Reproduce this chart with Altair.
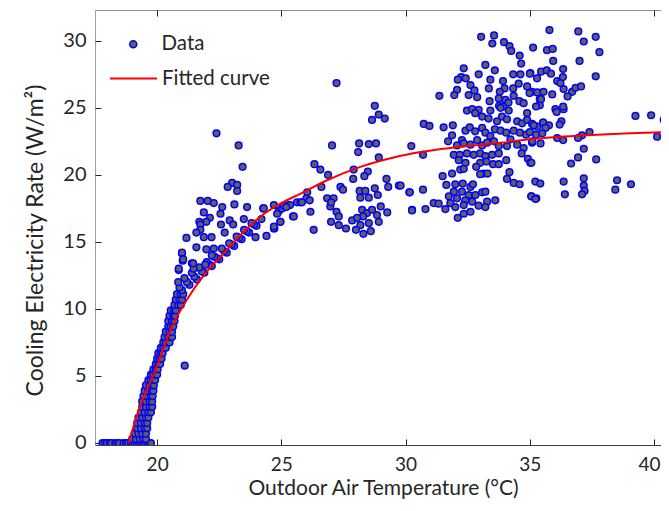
import altair as alt
import pandas as pd

# ---------------- data ----------------
zero_x = [17.8, 17.9, 17.98, 18.1, 18.16, 18.32, 18.4, 18.48, 18.65, 18.75, 18.83,
          18.95, 19.01, 19.1, 19.19, 19.28, 19.37, 19.45, 19.53, 19.62, 19.69, 19.75]
zero_y = [0, 0, 0, 0, 0, 0, 0, 0, 0, 0, 0, 0, 0, 0, 0, 0, 0, 0, 0, 0, 0, 0]

# steep rising band (x, y)
steep = [
    (19.0, 0.3), (19.15, 0.3), (19.3, 0.3), (19.45, 0.3), (19.55, 0.3),
    (19.1, 0.7), (19.25, 0.7), (19.4, 0.7), (19.55, 0.7),
    (19.2, 1.1), (19.35, 1.1), (19.5, 1.1), (19.6, 1.1),
    (19.2, 1.5), (19.35, 1.5), (19.5, 1.5), (19.6, 1.5),
    (19.25, 1.9), (19.4, 1.9), (19.55, 1.9), (19.65, 1.9),
    (19.35, 2.3), (19.5, 2.3), (19.65, 2.3), (19.75, 2.3),
    (19.4, 2.7), (19.55, 2.7), (19.7, 2.7), (19.8, 2.7),
    (19.4, 3.1), (19.55, 3.1), (19.7, 3.1), (19.8, 3.1),
    (19.45, 3.5), (19.6, 3.5), (19.75, 3.5), (19.82, 3.5),
    (19.5, 3.9), (19.65, 3.9), (19.78, 3.9), (19.85, 3.9),
    (19.55, 4.3), (19.7, 4.3), (19.8, 4.3), (19.87, 4.3),
    (19.65, 4.7), (19.75, 4.7), (19.85, 4.7), (19.92, 4.7),
    (19.75, 5.1), (19.85, 5.1), (19.95, 5.1), (20.0, 5.1),
    (19.85, 5.5), (19.95, 5.5), (20.02, 5.5),
    (19.95, 5.9), (20.05, 5.9), (20.12, 5.9),
    (20.0, 6.3), (20.1, 6.3), (20.18, 6.3),
    (20.05, 6.7), (20.15, 6.7), (20.22, 6.7),
    (20.15, 7.1), (20.25, 7.1), (20.35, 7.1),
    (20.25, 7.5), (20.35, 7.5), (20.5, 7.5),
    (20.3, 7.9), (20.45, 7.9), (20.6, 7.9),
    (20.35, 8.3), (20.5, 8.3), (20.6, 8.3),
    (20.45, 8.7), (20.55, 8.7), (20.65, 8.7),
    (20.45, 9.1), (20.6, 9.1), (20.7, 9.1),
    (20.5, 9.5), (20.65, 9.5), (20.72, 9.5),
    (20.55, 9.9), (20.68, 9.9), (20.75, 9.9),
    (20.7, 10.3), (20.85, 10.3), (20.95, 10.3),
    (20.75, 10.7), (20.9, 10.7), (21.0, 10.7),
    (20.8, 11.1), (20.95, 11.1), (21.05, 11.1),
    (21.11, 5.77),
]

# knee band (x, y)
knee = [
    (21.0, 11.4), (21.3, 11.8), (21.6, 12.2), (21.9, 12.7), (22.2, 13.2), (22.5, 13.7),
    (22.8, 14.2), (23.1, 14.7), (23.4, 15.2), (23.7, 15.7), (24.0, 16.2),
    (20.9, 11.6), (21.2, 12.0), (21.5, 12.4), (21.8, 12.8), (22.1, 13.3), (22.4, 13.8),
    (22.7, 14.3), (23.0, 14.8), (23.3, 15.3), (23.6, 15.8), (23.9, 16.3), (24.2, 16.7),
    (20.85, 12.0), (21.1, 12.3), (21.4, 12.7), (21.7, 13.1), (22.0, 13.5), (22.3, 13.9),
    (22.6, 14.5), (22.9, 14.9), (23.2, 15.4), (23.5, 15.9), (23.8, 16.4),
    (20.87, 12.9), (21.0, 14.15), (21.03, 13.6), (21.4, 13.4), (21.47, 13.0), (21.94, 13.3),
]

# scatter above the knee, 20.8 - 25 degC (x, y)
warm = [
    (22.39, 23.1), (23.28, 22.2), (23.44, 20.6), (23.02, 19.4), (22.84, 19.1), (23.22, 19.25),
    (23.22, 18.8), (21.74, 18.06), (22.04, 18.06), (22.28, 17.9), (23.11, 17.8), (22.62, 17.6),
    (23.62, 17.6), (21.88, 17.2), (22.55, 17.1), (22.12, 16.8), (23.49, 16.7), (21.7, 16.5),
    (21.98, 16.5), (22.92, 16.6), (21.74, 16.3), (22.57, 16.3), (23.06, 16.3), (21.74, 15.9),
    (21.58, 15.7), (22.72, 15.7), (21.18, 15.3), (21.88, 15.35), (22.19, 15.35), (23.96, 15.35),
    (24.4, 15.45), (24.72, 16.0), (21.58, 14.6), (21.98, 14.45), (22.28, 14.5), (21.0, 14.2),
    (21.05, 13.7), (22.2, 14.0), (21.45, 13.4), (20.87, 13.0), (24.27, 17.5), (24.7, 17.75),
    (24.9, 17.3),
]

# 24 - 30.5 degC (x, y)
mild = [
    (25.03, 17.5), (25.3, 17.75), (25.63, 17.95), (25.77, 17.95), (24.83, 17.1), (25.47, 16.9),
    (24.96, 16.5), (24.7, 16.0), (27.22, 26.85), (28.76, 25.15), (28.92, 24.5), (28.65, 24.1),
    (29.16, 24.2), (27.04, 22.2), (28.13, 22.35), (28.52, 22.3), (28.81, 22.35), (28.09, 21.7),
    (30.23, 22.15), (28.92, 21.3), (26.33, 20.8), (26.57, 20.4), (27.91, 20.4), (28.48, 20.25),
    (26.88, 20.0), (28.34, 19.9), (27.89, 19.7), (29.23, 19.7), (26.61, 19.1), (27.38, 19.1),
    (27.48, 18.9), (28.76, 19.0), (29.3, 19.1), (29.73, 19.2), (26.04, 18.7), (28.15, 18.8),
    (28.38, 18.8), (28.88, 18.5), (30.15, 18.7), (26.01, 18.25), (26.84, 18.25), (27.1, 18.25),
    (28.18, 18.3), (28.52, 18.3), (24.29, 17.5), (25.1, 17.7), (25.35, 17.75), (25.83, 17.95),
    (26.14, 18.1), (25.2, 17.6), (25.5, 16.9), (26.17, 17.25), (24.7, 16.15), (24.96, 16.5),
    (26.97, 17.65), (27.22, 17.25), (27.31, 16.9), (27.0, 17.95), (28.25, 17.4), (28.45, 17.15),
    (28.65, 17.4), (28.29, 16.9), (28.85, 17.0), (29.0, 17.65), (29.26, 17.2), (30.26, 17.4),
    (27.85, 16.6), (28.05, 16.8), (27.0, 16.5), (26.3, 15.9), (28.18, 16.25), (28.52, 16.4),
    (28.92, 16.5), (27.31, 16.25), (28.0, 15.9), (28.6, 15.8), (27.6, 16.0), (28.3, 15.6),
]

# 29.8 - 35.6 degC (x, y)
hot = [
    (33.04, 30.3), (33.56, 30.4), (33.49, 29.8), (33.96, 29.9), (34.18, 29.6), (34.25, 29.25),
    (35.13, 29.5), (34.59, 28.9), (34.65, 28.3), (32.34, 27.95), (33.21, 28.2), (33.59, 27.8),
    (32.94, 27.5), (32.24, 27.3), (32.1, 27.1), (32.42, 27.2), (33.41, 27.1), (33.92, 27.0),
    (34.33, 27.5), (34.62, 27.5), (35.02, 27.6), (35.29, 27.2), (34.55, 26.8), (34.89, 26.6),
    (35.09, 26.2), (34.33, 26.45), (33.98, 26.45), (33.79, 26.2), (33.35, 26.45), (32.61, 26.7),
    (32.77, 26.3), (32.07, 26.35), (31.96, 25.95), (31.36, 25.9), (32.54, 25.95), (32.88, 25.8),
    (33.38, 25.5), (33.75, 25.7), (34.02, 25.6), (34.35, 25.9), (34.58, 25.5), (34.75, 25.35),
    (34.99, 26.1), (35.3, 26.15), (35.4, 25.65), (35.4, 25.2), (33.76, 25.15), (33.94, 25.1),
    (34.14, 25.4), (32.47, 24.8), (32.68, 24.9), (32.94, 24.85), (33.41, 24.8), (33.82, 25.0),
    (34.15, 24.8), (34.89, 24.6), (35.25, 25.1), (33.08, 24.35), (32.8, 24.6), (33.34, 24.2),
    (33.68, 24.0), (33.88, 24.35), (34.08, 24.15), (34.49, 24.0), (34.69, 23.85), (34.89, 24.1),
    (35.09, 23.8), (35.3, 23.6), (35.53, 23.9), (30.73, 23.8), (30.96, 23.65), (31.53, 23.55),
    (31.9, 23.7), (32.41, 23.3), (32.58, 23.55), (32.8, 23.25), (33.08, 23.5), (33.21, 23.15),
    (33.41, 22.9), (33.59, 23.4), (33.82, 23.3), (34.05, 23.15), (34.35, 23.3), (34.6, 23.15),
    (34.85, 23.0), (35.0, 23.2), (35.25, 23.0), (31.87, 22.95), (31.71, 22.5), (32.27, 22.6),
    (32.61, 22.25), (32.88, 22.6), (33.08, 22.2), (33.28, 22.4), (33.56, 22.5), (33.75, 22.15),
    (34.08, 22.15), (34.22, 22.65), (34.49, 22.25), (34.75, 22.0), (35.09, 22.4), (32.07, 22.2),
    (32.34, 22.35), (30.7, 21.5), (31.94, 21.5), (32.18, 21.5), (32.47, 21.6), (32.74, 21.5),
    (33.0, 21.6), (33.21, 21.4), (33.48, 21.5), (33.75, 21.6), (33.25, 21.0), (33.0, 20.9),
    (33.52, 20.8), (33.75, 20.8), (34.05, 21.1), (34.67, 21.6), (34.92, 21.2), (35.02, 20.9),
    (32.14, 21.1), (32.41, 20.9), (32.84, 20.6), (32.2, 20.4), (32.34, 20.45), (31.87, 20.1),
    (33.14, 20.1), (33.3, 20.1), (33.0, 20.05), (31.49, 19.9), (34.18, 20.2), (34.08, 19.7),
    (34.35, 19.4), (34.59, 19.3), (29.8, 19.2), (30.17, 18.7), (30.7, 18.9), (31.64, 19.25),
    (32.0, 19.3), (32.3, 19.35), (32.61, 19.1), (32.71, 19.3), (31.94, 18.75), (32.27, 18.75),
    (32.54, 18.5), (32.81, 18.5), (33.08, 18.7), (33.21, 18.75), (31.74, 18.4), (32.07, 18.25),
    (32.4, 18.1), (33.28, 18.0), (33.61, 18.1), (31.13, 17.9), (31.33, 17.85), (31.8, 17.9),
    (32.0, 17.6), (32.34, 17.75), (32.68, 18.0), (32.94, 17.7), (33.21, 17.6), (30.8, 17.45),
    (30.26, 17.35), (31.6, 17.45), (32.61, 17.25), (32.34, 17.1), (32.1, 16.8), (35.06, 18.4),
    (35.26, 18.25),
]

# 35 - 40.6 degC (x, y)
hottest = [
    (35.79, 30.8), (36.95, 30.7), (37.65, 30.3), (37.17, 29.95), (37.8, 29.15), (35.69, 29.3),
    (35.92, 29.4), (35.94, 28.5), (37.0, 28.5), (36.34, 27.9), (37.65, 27.35), (35.45, 27.7),
    (35.68, 27.8), (35.85, 27.55), (36.1, 27.0), (36.23, 26.85), (36.33, 27.3), (35.0, 27.55),
    (36.36, 26.4), (36.7, 26.2), (36.84, 26.5), (37.06, 26.6), (36.52, 25.85), (35.55, 26.2),
    (35.9, 26.0), (35.45, 25.65), (36.03, 24.9), (36.08, 24.7), (36.36, 24.9), (36.34, 25.1),
    (36.27, 24.0), (36.2, 23.75), (35.54, 23.9), (35.77, 23.7), (35.63, 23.5), (35.16, 23.7),
    (35.5, 23.1), (39.25, 24.4), (39.88, 24.45), (40.39, 24.1), (40.12, 22.85), (37.4, 23.2),
    (37.1, 22.95), (36.94, 22.75), (36.1, 22.75), (36.34, 22.6), (35.43, 22.35), (35.1, 22.5),
    (37.17, 21.95), (36.94, 21.3), (36.66, 20.85), (37.67, 21.15), (35.06, 20.9), (35.22, 19.5),
    (35.42, 19.35), (36.36, 19.5), (37.17, 19.75), (37.17, 19.2), (37.2, 18.8), (37.1, 18.55),
    (36.41, 18.55), (38.51, 19.6), (38.44, 18.9), (39.07, 19.3), (35.06, 18.4), (35.23, 18.2),
]

# fitted curve
fit_x = [18.85, 19.26, 19.93, 20.6, 21.2, 21.94, 22.68, 23.4, 24.16, 24.96, 25.77, 26.84,
         28.18, 29.52, 30.6, 31.5, 32.47, 33.82, 35.02, 36.36, 37.7, 39.04, 40.6]
fit_y = [0.0, 2.46, 5.45, 8.7, 10.7, 12.65, 14.15, 15.6, 16.9, 17.85, 18.6, 19.6,
         20.6, 21.3, 21.7, 21.95, 22.15, 22.4, 22.65, 22.86, 23.0, 23.1, 23.2]

x_ticks = [20, 25, 30, 35, 40]
y_ticks = [0, 5, 10, 15, 20, 25, 30]

# ---------------- build tables ----------------
pairs = list(zip(zero_x, zero_y)) + steep + knee + warm + mild + hot + hottest
pts = pd.DataFrame(pairs, columns=["x", "y"])
pts["series"] = "Data"
fit = pd.DataFrame({"x": fit_x, "y": fit_y, "series": "Fitted curve"})

FONT = "Lato"
TXT = "#262626"
xs = alt.Scale(domain=[17.5, 40.6], nice=False, zero=False)
ys = alt.Scale(domain=[-0.15, 32.3], nice=False, zero=False)

points = alt.Chart(pts).mark_circle(
    size=45, stroke="#0000ff", strokeWidth=1.5, opacity=1, clip=True
).encode(
    x=alt.X("x:Q", scale=xs, axis=alt.Axis(
        orient="bottom", values=x_ticks, ticks=False, grid=False,
        domainColor="#404040", labelFont=FONT, labelFontSize=19, labelColor=TXT,
        labelPadding=10,
        labelOffset={"condition": {"test": "datum.value == 40", "value": -5}, "value": 0},
        title="Outdoor Air Temperature (°C)", titleFont=FONT,
        titleFontSize=21, titleFontWeight="normal", titleColor=TXT,
        titleX=288, titleY=43, titleBaseline="middle", titleAlign="center")),
    y=alt.Y("y:Q", scale=ys, axis=alt.Axis(
        orient="left", values=y_ticks, ticks=False, grid=False,
        domainColor="#a0a0a0", labelFont=FONT, labelFontSize=20, labelColor=TXT,
        labelPadding=9, title="Cooling Electricity Rate (W/m²)", titleFont=FONT,
        titleFontSize=23, titleFontWeight="normal", titleColor=TXT,
        titleX=-60, titleY=230, titleBaseline="middle", titleAlign="center", titleAngle=270)),
    fill=alt.Fill("series:N", scale=alt.Scale(domain=["Data"], range=["#606060"]),
                  legend=alt.Legend(title=None, orient="none", legendX=28, legendY=24,
                                    symbolType="circle", symbolSize=50,
                                    symbolStrokeColor="#0000ff", symbolStrokeWidth=1.5,
                                    symbolOpacity=1, labelFont=FONT, labelFontSize=20.5,
                                    labelColor=TXT, labelOffset=18, padding=0)),
)

curve = alt.Chart(fit).mark_line(strokeWidth=2, interpolate="monotone", clip=True).encode(
    x=alt.X("x:Q", scale=xs, axis=None),
    y=alt.Y("y:Q", scale=ys, axis=None),
    stroke=alt.Stroke("series:N", scale=alt.Scale(domain=["Fitted curve"], range=["#ff0000"]),
                      legend=alt.Legend(title=None, orient="none", legendX=14, legendY=44,
                                        symbolType="stroke", symbolSize=2209,
                                        symbolStrokeWidth=2, labelFont=FONT,
                                        labelFontSize=20.5, labelColor=TXT,
                                        labelOffset=4, padding=0)),
)

def tick_axis(orient):
    return alt.Axis(orient=orient, values=x_ticks if orient in ("bottom", "top") else y_ticks,
                    labels=False, domain=False, grid=False, title=None, ticks=True,
                    tickSize=6, tickColor=TXT, tickWidth=1, offset=-6)

ticks_bl = alt.Chart(fit).mark_point(opacity=0, size=1).encode(
    x=alt.X("x:Q", scale=xs, axis=tick_axis("bottom")),
    y=alt.Y("y:Q", scale=ys, axis=tick_axis("left")),
)
ticks_tr = alt.Chart(fit).mark_point(opacity=0, size=1).encode(
    x=alt.X("x:Q", scale=xs, axis=tick_axis("top")),
    y=alt.Y("y:Q", scale=ys, axis=tick_axis("right")),
)

chart = alt.layer(points, curve, ticks_bl, ticks_tr).resolve_axis(
    x="independent", y="independent"
).resolve_scale(
    x="shared", y="shared"
).properties(
    width=574, height=435,
    autosize=alt.AutoSizeParams(type="none"),
    padding={"left": 87, "top": 2, "right": -8, "bottom": 54},
    background="white",
).configure_view(stroke="#8c8c8c", strokeWidth=1)

chart.save("out.html", embed_options={"renderer": "svg", "actions": False})
